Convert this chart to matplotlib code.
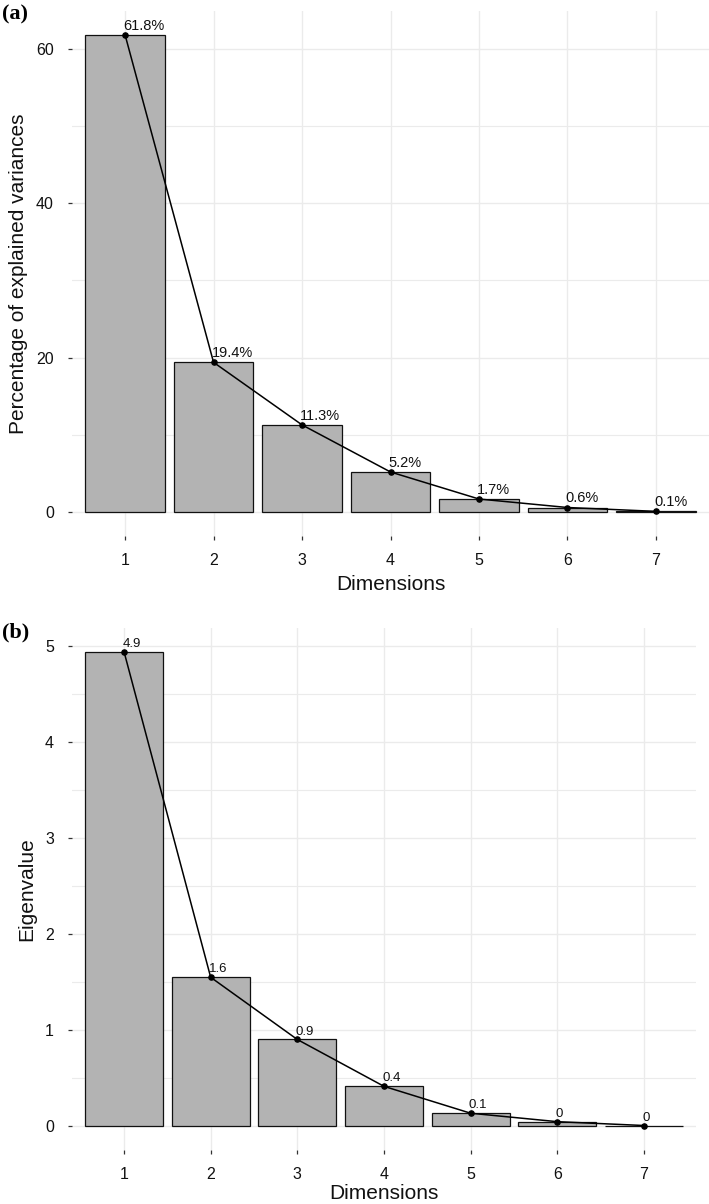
import numpy as np
import matplotlib
matplotlib.use("Agg")
import matplotlib.pyplot as plt
from matplotlib.ticker import MultipleLocator

plt.rcParams["font.family"] = ["Liberation Sans", "DejaVu Sans"]

dims = [1, 2, 3, 4, 5, 6, 7]
pct = [61.8, 19.4, 11.3, 5.2, 1.7, 0.6, 0.1]
pct_labels = ["61.8%", "19.4%", "11.3%", "5.2%", "1.7%", "0.6%", "0.1%"]
eig = [4.944, 1.552, 0.904, 0.416, 0.136, 0.048, 0.008]
eig_labels = ["4.9", "1.6", "0.9", "0.4", "0.1", "0", "0"]

BAR_COL = "#b3b3b3"
GRID_COL = "#ebebeb"
TXT_COL = "#111111"

W, H = 709, 1204
fig = plt.figure(figsize=(W / 100, H / 100), dpi=100)


def px_axes(left, right, top, bottom):
    return fig.add_axes([left / W, 1 - bottom / H, (right - left) / W, (bottom - top) / H])


def draw_panel(ax, vals, labels, ylim, major, minor, ylabel, off, lab_size, xpad):
    ax.set_axisbelow(True)
    ax.bar(dims, vals, width=0.9, color=BAR_COL, edgecolor="#111111", linewidth=0.9, zorder=2)
    ax.plot(dims, vals, color="black", linewidth=1.1, zorder=3)
    ax.scatter(dims, vals, color="black", s=14, zorder=4)
    for x, v, lab in zip(dims, vals, labels):
        ax.text(x - 0.02, v + off, lab, ha="left", va="bottom", fontsize=lab_size,
                color=TXT_COL, zorder=5)
    ax.set_xlim(0.4, 7.6)
    ax.set_ylim(*ylim)
    ax.set_xticks(dims)
    ax.yaxis.set_major_locator(MultipleLocator(major))
    ax.yaxis.set_minor_locator(MultipleLocator(minor))
    ax.grid(which="major", axis="both", color=GRID_COL, linewidth=1.0)
    ax.grid(which="minor", axis="y", color=GRID_COL, linewidth=0.8)
    ax.tick_params(axis="y", which="minor", length=0)
    ax.tick_params(axis="both", which="major", length=3, width=0.9, color="#333333",
                   labelsize=11.5, labelcolor=TXT_COL)
    ax.tick_params(axis="y", pad=10)
    ax.tick_params(axis="x", pad=9)
    for sp in ax.spines.values():
        sp.set_visible(False)
    ax.set_xlabel("Dimensions", fontsize=15, color=TXT_COL, labelpad=xpad)
    ax.set_ylabel(ylabel, fontsize=15, color=TXT_COL, labelpad=6)


# (a) explained variance
ax1 = px_axes(72, 709, 11, 536)
draw_panel(ax1, pct, pct_labels, (-3.09, 64.9), 20, 10,
           "Percentage of explained variances", 0.3, 10.5, 5)

# (b) eigenvalues
ax2 = px_axes(72, 696, 628, 1150)
draw_panel(ax2, eig, eig_labels, (-0.247, 5.19), 1, 0.5, "Eigenvalue", 0.02, 9.5, 2)

fig.text(2 / W, 1 - 14 / H, "(a)", fontsize=16, fontweight="bold",
         family="Liberation Serif", ha="left", va="center")
fig.text(2 / W, 1 - 632 / H, "(b)", fontsize=16, fontweight="bold",
         family="Liberation Serif", ha="left", va="center")

fig.savefig("out.png", dpi=100)
